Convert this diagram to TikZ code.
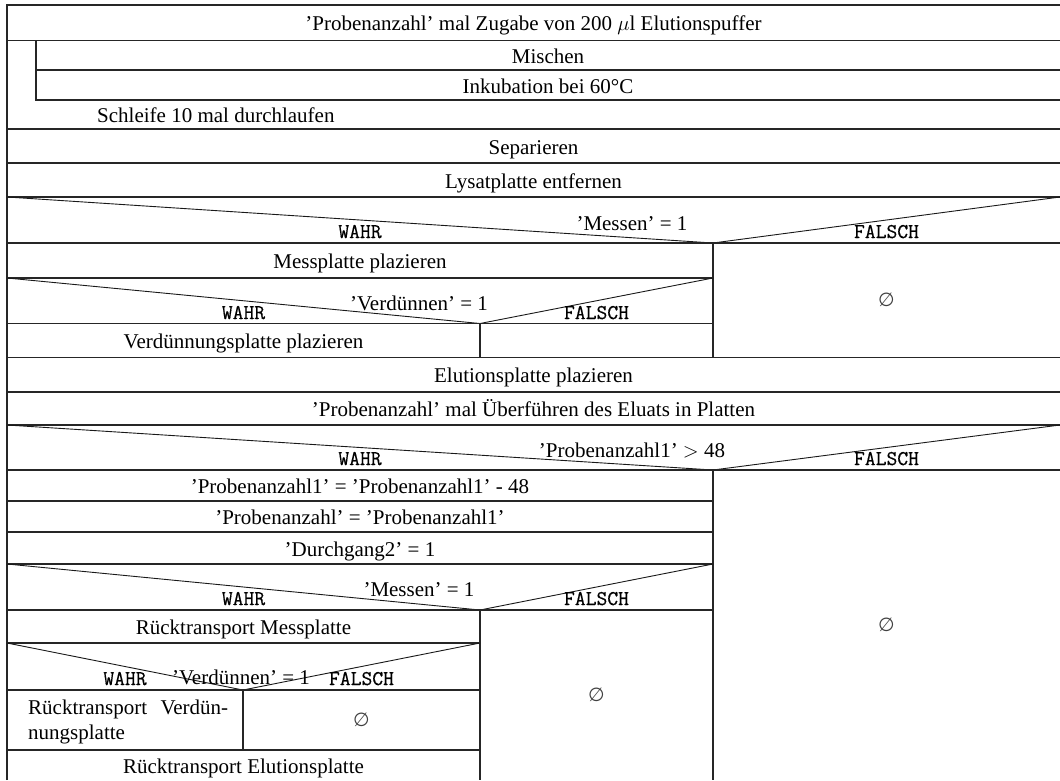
\documentclass[tikz,border=0pt]{standalone}
\usepackage{fontspec}
\setmainfont{Liberation Serif}
\newfontfamily\symfont{DejaVu Sans}
\newfontfamily\lbltt{Latin Modern Mono}[FakeBold=0.5]
\begin{document}
\begin{tikzpicture}[x=1pt,y=-1pt,
  rule/.style={line width=1.3pt, black!85},
  diag/.style={line width=0.9pt, black!90},
  txt/.style={font=\fontsize{21}{25}\selectfont, inner sep=0pt, text height=14pt, text depth=0pt},
  cond/.style={font=\fontsize{21}{25}\selectfont, inner sep=0pt, anchor=base},
  lbl/.style={font=\fontsize{21}{25}\selectfont\lbltt, inner sep=0pt, anchor=base},
  none/.style={font=\fontsize{19}{22}\selectfont\symfont, inner sep=0pt, text=black!75}
]
\useasboundingbox (0,0) rectangle (1060,780);

% outer frame (left and top)
\draw[rule] (7,780) -- (7,5) -- (1060,5);
% full-width separators
\foreach \y in {40.5,129,163,197,357.5,392,425}
  \draw[rule] (7,\y) -- (1060,\y);

% loop body
\draw[rule] (36,40.5) -- (36,100) -- (1060,100);
\draw[rule] (36,70) -- (1060,70);

% decision: 'Messen' = 1 (first)
\draw[diag] (7,197) -- (713,243) -- (1060,197);
\draw[rule] (7,243) -- (1060,243);
\draw[rule] (713,243) -- (713,357.5);
\draw[rule] (7,278) -- (713,278);
% nested decision: 'Verduennen' = 1
\draw[diag] (7,278) -- (480,323.5) -- (713,278);
\draw[rule] (7,323.5) -- (713,323.5);
\draw[rule] (480,323.5) -- (480,357.5);

% decision: 'Probenanzahl1' > 48
\draw[diag] (7,425) -- (713,470) -- (1060,425);
\draw[rule] (7,470) -- (1060,470);
\draw[rule] (713,470) -- (713,780);
\foreach \y in {501,532,564}
  \draw[rule] (7,\y) -- (713,\y);
% nested decision: 'Messen' = 1 (second)
\draw[diag] (7,564) -- (480,610) -- (713,564);
\draw[rule] (7,610) -- (713,610);
\draw[rule] (480,610) -- (480,780);
\draw[rule] (7,643) -- (480,643);
% nested decision: 'Verduennen' = 1 (second)
\draw[diag] (7,643) -- (243,690) -- (480,643);
\draw[rule] (7,690) -- (480,690);
\draw[rule] (243,690) -- (243,750);
\draw[rule] (7,750) -- (480,750);

% texts
\node[txt] (t1) at (533.5,23.75) {'Probenanzahl' mal Zugabe von 200 $\mu$l Elutionspuffer};
\node[txt] (t2) at (548,56.25) {Mischen};
\node[txt] (t3) at (548,86) {Inkubation bei 60°C};
\node[txt, anchor=west] (t4) at (97,115.5) {Schleife 10 mal durchlaufen};
\node[txt] (t5) at (533.5,147) {Separieren};
\node[txt] (t6) at (533.5,181) {Lysatplatte entfernen};

\node[cond] (c1) at (632,230) {'Messen' = 1};
\node[lbl] (w1) at (360,238) {WAHR};
\node[lbl] (f1) at (886.5,238) {FALSCH};
\node[txt] (t7) at (360,261.5) {Messplatte plazieren};
\node[cond] (c2) at (419,310) {'Verdünnen' = 1};
\node[lbl] (w2) at (243.5,319) {WAHR};
\node[lbl] (f2) at (596.5,319) {FALSCH};
\node[txt] (t8) at (243.5,341.5) {Verdünnungsplatte plazieren};
\node[none] (e1) at (886.5,300) {∅};

\node[txt] (t9) at (533.5,375.75) {Elutionsplatte plazieren};
\node[txt] (t10) at (533.5,409.5) {'Probenanzahl' mal Überführen des Eluats in Platten};
\node[cond] (c3) at (632,457) {'Probenanzahl1' $>$ 48};
\node[lbl] (w3) at (360,465) {WAHR};
\node[lbl] (f3) at (886.5,465) {FALSCH};
\node[txt] (t11) at (360,486.5) {'Probenanzahl1' = 'Probenanzahl1' - 48};
\node[txt] (t12) at (360,517.5) {'Probenanzahl' = 'Probenanzahl1'};
\node[txt] (t13) at (360,549) {'Durchgang2' = 1};
\node[cond] (c4) at (419,596) {'Messen' = 1};
\node[lbl] (w4) at (243.5,605) {WAHR};
\node[lbl] (f4) at (596.5,605) {FALSCH};
\node[txt] (t14) at (243.5,627.5) {Rücktransport Messplatte};
\node[cond] (c5) at (241,684) {'Verdünnen' = 1};
\node[lbl] (w5) at (125,685) {WAHR};
\node[lbl] (f5) at (361.5,685) {FALSCH};
\node[cond, anchor=base west] (t15a) at (28,714) {\makebox[200pt][s]{Rücktransport Verdün-}};
\node[cond, anchor=base west] (t15b) at (28,739) {nungsplatte};
\node[none] (e2) at (361.5,720) {∅};
\node[txt] (t16) at (243.5,766) {Rücktransport Elutionsplatte};
\node[none] (e3) at (596.5,695) {∅};
\node[none] (e4) at (886.5,625) {∅};
\end{tikzpicture}
\end{document}
